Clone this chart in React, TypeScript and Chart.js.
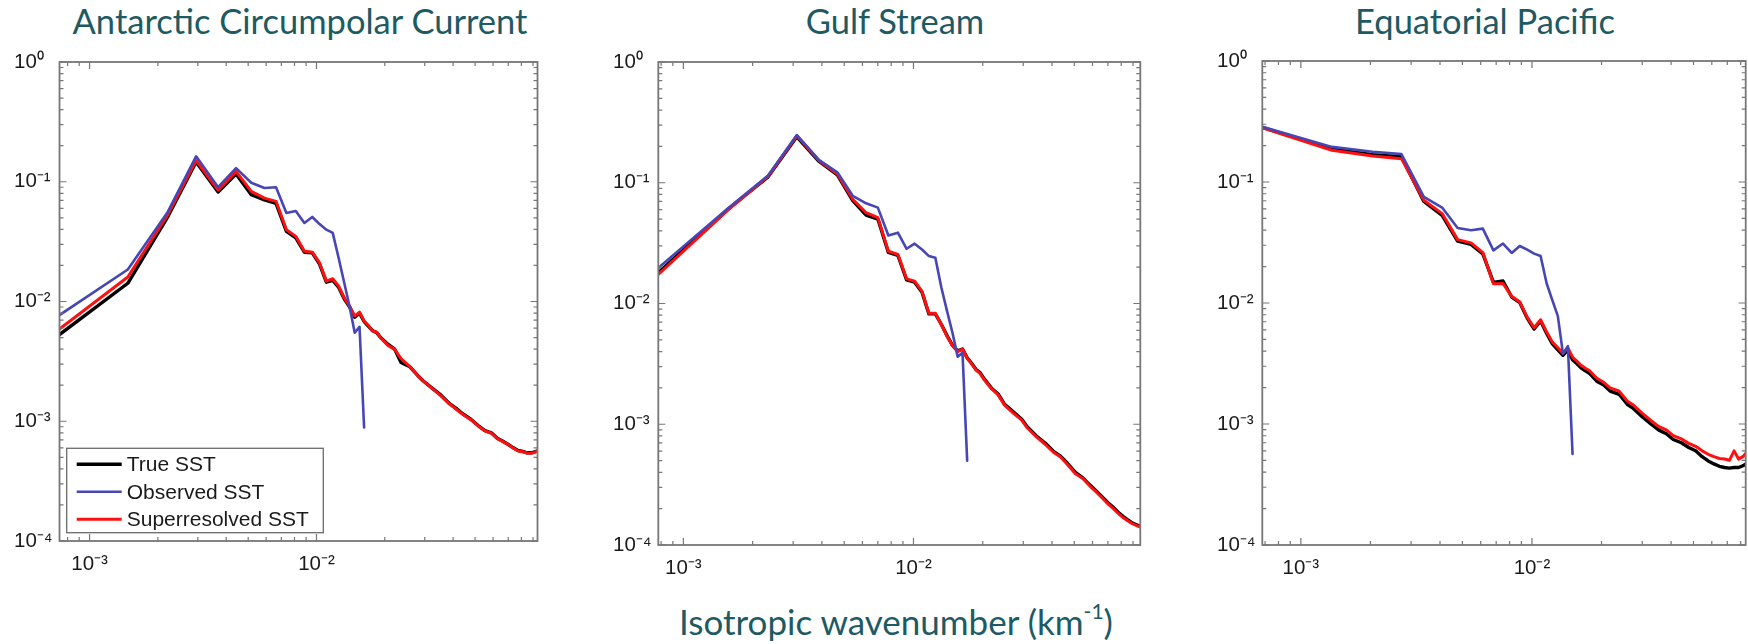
import React, { useEffect, useRef } from "react";
import { Chart, registerables } from "chart.js";

Chart.register(...registerables);

// ---------------- data ----------------
const SERIES_NAMES = ["True SST", "Observed SST", "Superresolved SST"];
const PANEL_TITLES = ["Antarctic Circumpolar Current", "Gulf Stream", "Equatorial Pacific"];
const X_AXIS_TITLE = "Isotropic wavenumber (km";
const X_AXIS_TITLE_EXP = "-1";
const X_AXIS_TITLE_END = ")";

const Y_TICK_VALUES = [1e-4, 1e-3, 1e-2, 1e-1, 1];
const Y_TICK_LABELS = ["10⁻⁴", "10⁻³", "10⁻²", "10⁻¹", "10⁰"];
const X_TICK_VALUES = [1e-3, 1e-2];
const X_TICK_LABELS = ["10⁻³", "10⁻²"];

// Antarctic Circumpolar Current
const ACC_K = [
  0.000737, 0.001474, 0.002211, 0.002948, 0.003685, 0.004422, 0.005159, 0.005896, 0.006633, 0.00737,
  0.008107, 0.008844, 0.009581, 0.010318, 0.011055, 0.011792, 0.012529, 0.013266, 0.014003, 0.01474,
  0.015477, 0.016214, 0.016951, 0.017688, 0.018425, 0.019162, 0.020636, 0.02211, 0.023584, 0.025795,
  0.028006, 0.02948, 0.032428, 0.035376, 0.038324, 0.041272, 0.04422, 0.047905, 0.05159, 0.055275,
  0.05896, 0.062645, 0.06633, 0.070015, 0.0737, 0.077385, 0.08107, 0.084755, 0.08844, 0.091388, 0.094336,
];
const ACC_TRUE = [
  0.0053, 0.0142, 0.051, 0.146, 0.082, 0.116, 0.078, 0.0705, 0.066, 0.0385,
  0.034, 0.0258, 0.0255, 0.0205, 0.0145, 0.015, 0.0131, 0.0105, 0.009, 0.0074,
  0.008, 0.0068, 0.0062, 0.0057, 0.0055, 0.005, 0.0044, 0.004, 0.0031, 0.00285,
  0.0024, 0.00218, 0.00188, 0.00165, 0.00142, 0.00128, 0.00115, 0.00104, 0.00092, 0.000835,
  0.0008, 0.00072, 0.00068, 0.00064, 0.0006, 0.00057, 0.00056, 0.000545, 0.000545, 0.000555, 0.000565,
];
const ACC_OBS = [
  0.0077, 0.0185, 0.056, 0.163, 0.09, 0.13, 0.098, 0.0886, 0.09, 0.0548,
  0.057, 0.0453, 0.0508, 0.0443, 0.0398, 0.0374, 0.023, 0.0142, 0.009, 0.00548,
  0.00615, 0.000886,
];
const ACC_SR = [
  0.0059, 0.016, 0.053, 0.15, 0.085, 0.122, 0.083, 0.073, 0.0686, 0.0398,
  0.035, 0.0263, 0.0258, 0.021, 0.0148, 0.0155, 0.0134, 0.0107, 0.0091, 0.00755,
  0.00815, 0.00685, 0.0063, 0.00566, 0.00555, 0.00498, 0.0043, 0.00398, 0.00333, 0.00286,
  0.00239, 0.00217, 0.00187, 0.00163, 0.00141, 0.00126, 0.00114, 0.00103, 0.000914, 0.00083,
  0.000794, 0.000716, 0.000676, 0.000638, 0.000596, 0.000565, 0.000556, 0.000543, 0.00054, 0.00055, 0.000565,
];

// Gulf Stream
const GULF_K = [
  0.000778, 0.001556, 0.002334, 0.003112, 0.00389, 0.004668, 0.005446, 0.006224, 0.007002, 0.00778,
  0.008558, 0.009336, 0.010114, 0.010892, 0.01167, 0.012448, 0.013226, 0.014004, 0.014782, 0.01556,
  0.016338, 0.017116, 0.017894, 0.018672, 0.01945, 0.020228, 0.021784, 0.02334, 0.024896, 0.02723,
  0.029564, 0.03112, 0.034232, 0.037344, 0.040456, 0.043568, 0.04668, 0.05057, 0.05446, 0.05835,
  0.06224, 0.06613, 0.07002, 0.07391, 0.0778, 0.08169, 0.08558, 0.08947, 0.09336, 0.096472, 0.099584,
];
const GULF_TRUE = [
  0.018, 0.06, 0.112, 0.24, 0.15, 0.116, 0.071, 0.054, 0.05, 0.0265,
  0.025, 0.0157, 0.015, 0.0124, 0.0082, 0.0082, 0.0067, 0.0054, 0.0045, 0.00405,
  0.0042, 0.00355, 0.0032, 0.00285, 0.00268, 0.0024, 0.002, 0.00178, 0.00146, 0.00126,
  0.0011, 0.00096, 0.0008, 0.0007, 0.0006, 0.000545, 0.000475, 0.0004, 0.00036, 0.000315,
  0.00028, 0.00025, 0.000224, 0.000205, 0.000186, 0.000172, 0.000161, 0.000152, 0.000147, 0.000143, 0.00014,
];
const GULF_OBS = [
  0.0197, 0.061, 0.115, 0.248, 0.154, 0.122, 0.078, 0.0676, 0.0622, 0.0366,
  0.0386, 0.0284, 0.0313, 0.028, 0.0247, 0.0239, 0.0135, 0.0086, 0.0057, 0.00363,
  0.0039, 0.0005,
];
const GULF_SR = [
  0.0174, 0.059, 0.113, 0.245, 0.152, 0.118, 0.073, 0.0565, 0.0514, 0.0271,
  0.0255, 0.016, 0.0153, 0.0126, 0.0083, 0.0083, 0.00667, 0.00533, 0.00446, 0.004,
  0.00419, 0.00352, 0.00316, 0.00282, 0.00264, 0.00236, 0.00198, 0.00175, 0.00144, 0.00123,
  0.00108, 0.00094, 0.000785, 0.000683, 0.000589, 0.000535, 0.000465, 0.000389, 0.000355, 0.000309,
  0.000275, 0.000245, 0.000219, 0.0002, 0.000182, 0.000168, 0.000158, 0.00015, 0.000145, 0.000141, 0.000138,
];

// Equatorial Pacific
const EQ_K = [
  0.000681, 0.001362, 0.002043, 0.002724, 0.003405, 0.004086, 0.004767, 0.005448, 0.006129, 0.00681,
  0.007491, 0.008172, 0.008853, 0.009534, 0.010215, 0.010896, 0.011577, 0.012258, 0.012939, 0.01362,
  0.014301, 0.014982, 0.015663, 0.016344, 0.017025, 0.017706, 0.019068, 0.02043, 0.021792, 0.023835,
  0.025878, 0.02724, 0.029964, 0.032688, 0.035412, 0.038136, 0.04086, 0.044265, 0.04767, 0.051075,
  0.05448, 0.057885, 0.06129, 0.064695, 0.0681, 0.071505, 0.07491, 0.078315, 0.08172, 0.084444, 0.087168,
];
const EQ_TRUE = [
  0.283, 0.187, 0.168, 0.162, 0.069, 0.053, 0.0325, 0.0305, 0.0255, 0.0148,
  0.0152, 0.0112, 0.0101, 0.0075, 0.0061, 0.0071, 0.0056, 0.0046, 0.0041, 0.0037,
  0.0041, 0.0034, 0.00315, 0.0029, 0.00275, 0.00263, 0.00226, 0.0021, 0.00187, 0.00176,
  0.00145, 0.00136, 0.00115, 0.001, 0.00089, 0.00083, 0.000745, 0.0007, 0.00064, 0.0006,
  0.000537, 0.000495, 0.000468, 0.000447, 0.000437, 0.000432, 0.000437, 0.000437, 0.000452, 0.000468, 0.000468,
];
const EQ_OBS = [
  0.286, 0.195, 0.178, 0.17, 0.0753, 0.0615, 0.0417, 0.0399, 0.0412, 0.0272,
  0.031, 0.0259, 0.0296, 0.0276, 0.0256, 0.0245, 0.0145, 0.0105, 0.0078, 0.0038,
  0.0044, 0.000565,
];
const EQ_SR = [
  0.28, 0.183, 0.164, 0.156, 0.0707, 0.0548, 0.0334, 0.0314, 0.0261, 0.0144,
  0.0145, 0.01135, 0.0102, 0.00764, 0.00624, 0.00727, 0.00575, 0.00475, 0.00426, 0.00385,
  0.00426, 0.00357, 0.0033, 0.00304, 0.00289, 0.00277, 0.00239, 0.00221, 0.00199, 0.00187,
  0.00154, 0.00145, 0.00123, 0.00107, 0.000952, 0.000893, 0.000802, 0.000753, 0.000692, 0.000654,
  0.0006, 0.000562, 0.000537, 0.000519, 0.000513, 0.000501, 0.0006, 0.000513, 0.000537, 0.000575, 0.000589,
];

// ---------------- styling / layout ----------------
const SERIES_COLORS = ["#000000", "#4646b6", "#ff1010"];
const SERIES_WIDTHS = [3.4, 2.6, 3];
const SERIES_DRAW_ORDER = [2, 0, 1];
const FRAME_COLOR = "#777777";
const TICK_FONT = { family: '"Liberation Sans", Arial, sans-serif', size: 20.5 };
const TITLE_COLOR = "#1d5a63";
const TITLE_FONT = 'Lato, "Open Sans", sans-serif';
const TITLE_SIZE = 34.5;

type Box = { l: number; t: number; r: number; b: number };
type Panel = {
  title: string;
  k: number[];
  series: number[][];
  xMin: number;
  xMax: number;
  box: Box;
  titleCx: number;
  legend: boolean;
};

const PANELS: Panel[] = [
  {
    title: PANEL_TITLES[0],
    k: ACC_K,
    series: [ACC_TRUE, ACC_OBS, ACC_SR],
    xMin: 7.37e-4,
    xMax: 0.0942,
    box: { l: 59.5, t: 62, r: 537.5, b: 541 },
    titleCx: 300,
    legend: true,
  },
  {
    title: PANEL_TITLES[1],
    k: GULF_K,
    series: [GULF_TRUE, GULF_OBS, GULF_SR],
    xMin: 7.78e-4,
    xMax: 0.0968,
    box: { l: 658.3, t: 62, r: 1140.3, b: 545 },
    titleCx: 895,
    legend: false,
  },
  {
    title: PANEL_TITLES[2],
    k: EQ_K,
    series: [EQ_TRUE, EQ_OBS, EQ_SR],
    xMin: 6.81e-4,
    xMax: 0.0841,
    box: { l: 1262.3, t: 61, r: 1745.7, b: 545 },
    titleCx: 1485,
    legend: false,
  },
];

function labelFor(v: number, values: number[], labels: string[]): string {
  for (let i = 0; i < values.length; i++) {
    if (Math.abs(Math.log10(v) - Math.log10(values[i])) < 1e-6) return labels[i];
  }
  return "";
}

const framePlugin = {
  id: "matlabFrame",
  afterDraw(chart: any) {
    const { ctx, chartArea: a } = chart;
    const xs = chart.scales.x;
    const ys = chart.scales.y;
    const eachLogTick = (scale: any, cb: (p: number, major: boolean) => void) => {
      const e0 = Math.floor(Math.log10(scale.min)) - 1;
      const e1 = Math.ceil(Math.log10(scale.max)) + 1;
      for (let e = e0; e <= e1; e++) {
        for (let d = 1; d <= 9; d++) {
          const v = d * Math.pow(10, e);
          if (v < scale.min * 0.9999 || v > scale.max * 1.0001) continue;
          cb(scale.getPixelForValue(v), d === 1);
        }
      }
    };
    ctx.save();
    ctx.strokeStyle = FRAME_COLOR;
    ctx.lineWidth = 1.2;
    ctx.beginPath();
    eachLogTick(xs, (p, major) => {
      const len = major ? 7 : 4;
      ctx.moveTo(p, a.bottom);
      ctx.lineTo(p, a.bottom - len);
      ctx.moveTo(p, a.top);
      ctx.lineTo(p, a.top + len);
    });
    eachLogTick(ys, (p, major) => {
      const len = major ? 7 : 4;
      ctx.moveTo(a.left, p);
      ctx.lineTo(a.left + len, p);
      ctx.moveTo(a.right, p);
      ctx.lineTo(a.right - len, p);
    });
    ctx.stroke();
    ctx.lineWidth = 1.8;
    ctx.strokeRect(a.left, a.top, a.right - a.left, a.bottom - a.top);
    ctx.restore();
  },
};

const insetLegendPlugin = {
  id: "insetLegend",
  afterDraw(chart: any, _args: any, opts: any) {
    if (!opts || !opts.show) return;
    const { ctx, chartArea: a } = chart;
    const w = 256.6;
    const h = 84.4;
    const left = a.left + 7.2;
    const bottom = a.bottom - 8.3;
    const top = bottom - h;
    ctx.save();
    ctx.fillStyle = "#ffffff";
    ctx.fillRect(left, top, w, h);
    ctx.strokeStyle = "#6a6a6a";
    ctx.lineWidth = 1.3;
    ctx.strokeRect(left, top, w, h);
    const rows = [16, 43.5, 71];
    chart.data.datasets.forEach((ds: any, i: number) => {
      const y = top + rows[i];
      ctx.strokeStyle = ds.borderColor;
      ctx.lineWidth = ds.borderWidth;
      ctx.beginPath();
      ctx.moveTo(left + 10, y);
      ctx.lineTo(left + 55, y);
      ctx.stroke();
      ctx.fillStyle = "#1a1a1a";
      ctx.font = '21px "Liberation Sans", Arial, sans-serif';
      ctx.textBaseline = "middle";
      ctx.textAlign = "left";
      ctx.fillText(ds.label, left + 60, y + 1);
    });
    ctx.restore();
  },
};

function PanelChart({ panel }: { panel: Panel }) {
  const ref = useRef<HTMLCanvasElement | null>(null);
  const { box } = panel;
  const cLeft = Math.floor(box.l - 45);
  const cTop = Math.round(box.t - 20);
  const cRight = Math.min(1748, Math.ceil(box.r + 3));
  const cBottom = Math.round(box.b + 50);
  const width = cRight - cLeft;
  const height = cBottom - cTop;

  useEffect(() => {
    if (!ref.current) return;
    const datasets = SERIES_NAMES.map((name, si) => ({
      label: name,
      data: panel.series[si].map((y, i) => ({ x: panel.k[i], y })),
      borderColor: SERIES_COLORS[si],
      backgroundColor: SERIES_COLORS[si],
      borderWidth: SERIES_WIDTHS[si],
      order: SERIES_DRAW_ORDER[si],
      pointRadius: 0,
      tension: 0,
      fill: false,
      borderJoinStyle: "round" as const,
      borderCapStyle: "round" as const,
    }));
    const chart = new Chart(ref.current, {
      type: "line",
      data: { datasets },
      options: {
        animation: false,
        responsive: false,
        devicePixelRatio: 1,
        events: [],
        layout: {
          padding: { top: box.t - cTop, right: cRight - box.r, left: 0, bottom: 0 },
        },
        plugins: {
          legend: { display: false },
          tooltip: { enabled: false },
          title: { display: false },
          insetLegend: { show: panel.legend },
        } as any,
        scales: {
          x: {
            type: "logarithmic",
            position: "bottom",
            min: panel.xMin,
            max: panel.xMax,
            bounds: "data",
            afterBuildTicks: (s: any) => {
              s.ticks = X_TICK_VALUES.map((v) => ({ value: v, major: true }));
            },
            afterFit: (s: any) => {
              s.height = cBottom - box.b;
            },
            grid: { display: false, drawTicks: false },
            border: { display: false },
            ticks: {
              autoSkip: false,
              maxRotation: 0,
              minRotation: 0,
              padding: 11,
              color: "#1a1a1a",
              font: TICK_FONT,
              callback: (v: any) => labelFor(Number(v), X_TICK_VALUES, X_TICK_LABELS),
            },
          },
          y: {
            type: "logarithmic",
            position: "left",
            min: 1e-4,
            max: 1,
            bounds: "data",
            afterBuildTicks: (s: any) => {
              s.ticks = Y_TICK_VALUES.map((v) => ({ value: v, major: true }));
            },
            afterFit: (s: any) => {
              s.width = box.l - cLeft;
            },
            grid: { display: false, drawTicks: false },
            border: { display: false },
            ticks: {
              autoSkip: false,
              crossAlign: "far",
              padding: 0,
              color: "#1a1a1a",
              font: TICK_FONT,
              callback: (v: any) => labelFor(Number(v), Y_TICK_VALUES, Y_TICK_LABELS),
            },
          },
        } as any,
      },
      plugins: [framePlugin, insetLegendPlugin],
    });
    return () => chart.destroy();
  }, []);

  return (
    <canvas
      ref={ref}
      width={width}
      height={height}
      style={{ position: "absolute", left: cLeft, top: cTop, width, height }}
    />
  );
}

export default function App() {
  return (
    <div
      style={{
        position: "fixed",
        left: 0,
        top: 0,
        width: 1748,
        height: 644,
        background: "#ffffff",
        overflow: "hidden",
      }}
    >
      {PANELS.map((p, i) => (
        <div
          key={"t" + i}
          style={{
            position: "absolute",
            left: p.titleCx,
            top: 4,
            transform: "translateX(-50%)",
            whiteSpace: "nowrap",
            fontFamily: TITLE_FONT,
            fontSize: TITLE_SIZE,
            lineHeight: TITLE_SIZE + "px",
            color: TITLE_COLOR,
          }}
        >
          {p.title}
        </div>
      ))}
      {PANELS.map((p, i) => (
        <PanelChart key={"c" + i} panel={p} />
      ))}
      <div
        style={{
          position: "absolute",
          left: 896,
          top: 604,
          transform: "translateX(-50%)",
          whiteSpace: "nowrap",
          fontFamily: TITLE_FONT,
          fontSize: 35,
          lineHeight: "35px",
          color: TITLE_COLOR,
        }}
      >
        {X_AXIS_TITLE}
        <span style={{ fontSize: "60%", position: "relative", top: "-0.75em" }}>{X_AXIS_TITLE_EXP}</span>
        {X_AXIS_TITLE_END}
      </div>
    </div>
  );
}
